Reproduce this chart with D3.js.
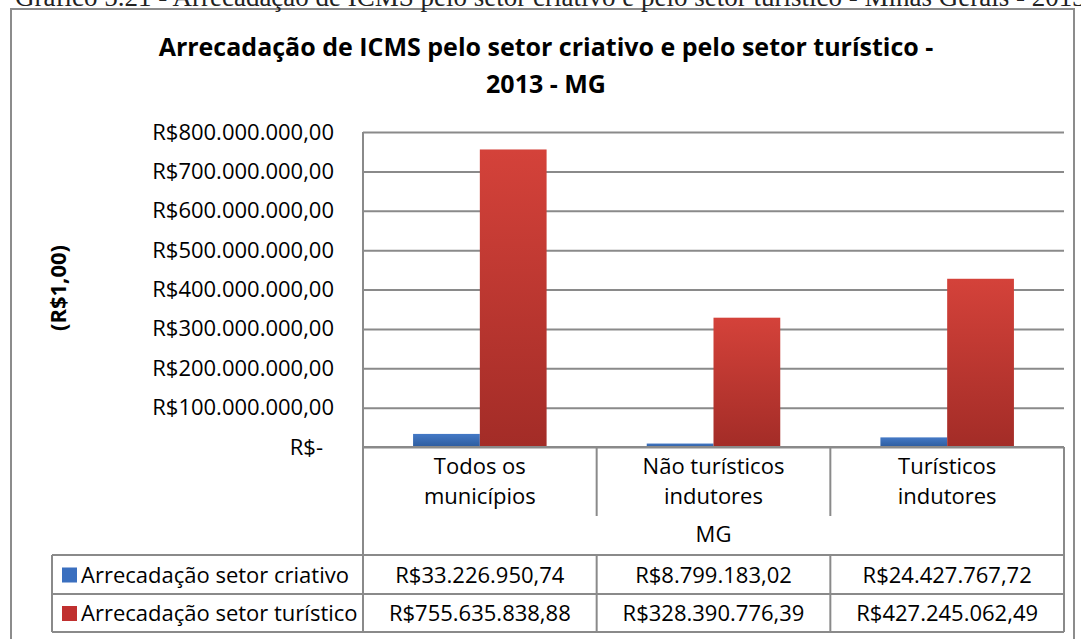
<!DOCTYPE html>
<html>
<head>
<meta charset="utf-8">
<script src="https://cdn.jsdelivr.net/npm/d3@7"></script>
<style>
    body { margin: 0; background: #fff; }
    svg { display: block; font-family: "Open Sans", sans-serif; }
</style>
</head>
<body>
<svg width="1081" height="639"></svg>
<script>
// dados
const categories = ["Todos os municípios", "Não turísticos indutores", "Turísticos indutores"];
const categoryLines = [["Todos os", "municípios"], ["Não turísticos", "indutores"], ["Turísticos", "indutores"]];
const groupLabel = "MG";
const seriesNames = ["Arrecadação setor criativo", "Arrecadação setor turístico"];
const criativo = [33226950.74, 8799183.02, 24427767.72];
const turistico = [755635838.88, 328390776.39, 427245062.49];
const yTicks = [0, 100000000, 200000000, 300000000, 400000000, 500000000, 600000000, 700000000, 800000000];
const chartTitle = ["Arrecadação de ICMS pelo setor criativo e pelo setor turístico -", "2013 - MG"];
const yTitle = "(R$1,00)";
const caption = "Gráfico 5.21 - Arrecadação de ICMS pelo setor criativo e pelo setor turístico - Minas Gerais - 2013";

const seriesValues = [criativo, turistico];
const colors = [
    { top: "#4479c6", bottom: "#2d5c9e", key: "#3a6fbf" },
    { top: "#d4423a", bottom: "#a32c27", key: "#c0302f" }
];

const br = d3.formatLocale({ decimal: ",", thousands: ".", grouping: [3], currency: ["R$", ""] });
const money = br.format("$,.2f");
const fmt = v => (v === 0 ? "R$-" : money(v));

const svg = d3.select("svg");
const lineColor = "#8a8a8a";
const fontSize = "22px";

// 1. área do gráfico
const plot = { left: 363, right: 1064, top: 132, bottom: 447 };
const table = { left: 52, catBottom: 516, row1: 555, row2: 594, bottom: 632 };

// moldura externa
svg.append("rect")
    .attr("x", 11).attr("y", 9)
    .attr("width", 1063).attr("height", 650)
    .attr("fill", "none")
    .attr("stroke", "#8c8c8c")
    .attr("stroke-width", 2);

// legenda do documento, cortada no topo
svg.append("text")
    .attr("x", 15).attr("y", 6)
    .style("font-family", "'Liberation Serif', serif")
    .style("font-size", "27px")
    .attr("fill", "#222")
    .text(caption);

// 2. título
svg.append("g").selectAll("text")
    .data(chartTitle)
    .enter()
    .append("text")
    .attr("x", 546)
    .attr("y", (d, i) => 56 + i * 37)
    .attr("text-anchor", "middle")
    .style("font-size", "25px")
    .style("font-weight", "bold")
    .text(d => d);

// 3. escalas
const x0 = d3.scaleBand()
    .domain(categories)
    .range([plot.left, plot.right])
    .padding(0);

const bw = x0.bandwidth();
const x1 = d3.scaleBand()
    .domain(seriesNames)
    .range([bw * 0.75 / 3.5, bw * 2.75 / 3.5])
    .padding(0);

const y = d3.scaleLinear()
    .domain([0, d3.max(yTicks)])
    .range([plot.bottom, plot.top]);

// 4. eixo y com linhas de grade
const yAxis = svg.append("g")
    .attr("transform", "translate(" + plot.left + ",0)")
    .call(
        d3.axisLeft(y)
            .tickValues(yTicks)
            .tickSize(-(plot.right - plot.left))
            .tickPadding(29)
            .tickFormat(fmt)
    );
yAxis.select(".domain").remove();
yAxis.selectAll(".tick line").attr("stroke", lineColor).attr("stroke-width", 2);
yAxis.selectAll(".tick text")
    .attr("fill", "#000")
    .style("font-size", fontSize)
    .style("font-family", "'Open Sans', sans-serif")
    .attr("dx", d => (d === 0 ? -11 : 0));

svg.append("text")
    .attr("transform", "translate(66,288) rotate(-90)")
    .attr("text-anchor", "middle")
    .style("font-size", "22px")
    .style("font-weight", "bold")
    .text(yTitle);

// 5. barras com gradiente
const defs = svg.append("defs");
colors.forEach((c, i) => {
    const g = defs.append("linearGradient")
        .attr("id", "grad" + i)
        .attr("x1", 0).attr("y1", 0).attr("x2", 0).attr("y2", 1);
    g.append("stop").attr("offset", "0%").attr("stop-color", c.top);
    g.append("stop").attr("offset", "100%").attr("stop-color", c.bottom);
});

const barG = svg.append("g");
seriesNames.forEach((s, si) => {
    barG.append("g")
        .selectAll("rect")
        .data(seriesValues[si])
        .enter()
        .append("rect")
        .attr("x", (d, i) => x0(categories[i]) + x1(s))
        .attr("y", d => y(d))
        .attr("width", x1.bandwidth())
        .attr("height", d => y(0) - y(d))
        .attr("fill", "url(#grad" + si + ")");
});

// 6. tabela de dados
const tG = svg.append("g")
    .attr("stroke", lineColor)
    .attr("stroke-width", 2);
const hline = (xa, xb, yy) =>
    tG.append("line").attr("x1", xa).attr("x2", xb).attr("y1", yy).attr("y2", yy);
const vline = (xx, ya, yb) =>
    tG.append("line").attr("x1", xx).attr("x2", xx).attr("y1", ya).attr("y2", yb);

hline(plot.left, plot.right, plot.bottom);
hline(table.left, plot.right, table.row1);
hline(table.left, plot.right, table.row2);
hline(table.left, plot.right, table.bottom);
vline(plot.left, plot.top, table.bottom);
vline(plot.right, plot.bottom, table.bottom);
vline(table.left, table.row1, table.bottom);
categories.slice(1).forEach(c => vline(x0(c), plot.bottom, table.catBottom));
categories.slice(1).forEach(c => vline(x0(c), table.row1, table.bottom));

// rótulos das categorias
const catG = svg.append("g").style("font-size", fontSize).attr("text-anchor", "middle");
categories.forEach((c, i) => {
    catG.selectAll(null)
        .data(categoryLines[i])
        .enter()
        .append("text")
        .attr("x", x0(c) + bw / 2)
        .attr("y", (d, j) => 474 + j * 30)
        .text(d => d);
});
catG.append("text")
    .attr("x", (plot.left + plot.right) / 2)
    .attr("y", 542)
    .text(groupLabel);

// linhas de valores com legenda
const rowMid = [(table.row1 + table.row2) / 2, (table.row2 + table.bottom) / 2];
seriesNames.forEach((s, si) => {
    const row = svg.append("g").style("font-size", fontSize);
    row.append("rect")
        .attr("x", 62).attr("y", rowMid[si] - 7)
        .attr("width", 15).attr("height", 15)
        .attr("fill", colors[si].key);
    row.append("text")
        .attr("x", 81)
        .attr("y", rowMid[si] + 8)
        .text(s);
    row.selectAll(".val")
        .data(seriesValues[si])
        .enter()
        .append("text")
        .attr("class", "val")
        .attr("text-anchor", "middle")
        .attr("x", (d, i) => x0(categories[i]) + bw / 2)
        .attr("y", rowMid[si] + 8)
        .text(d => fmt(d));
});
</script>
</body>
</html>
